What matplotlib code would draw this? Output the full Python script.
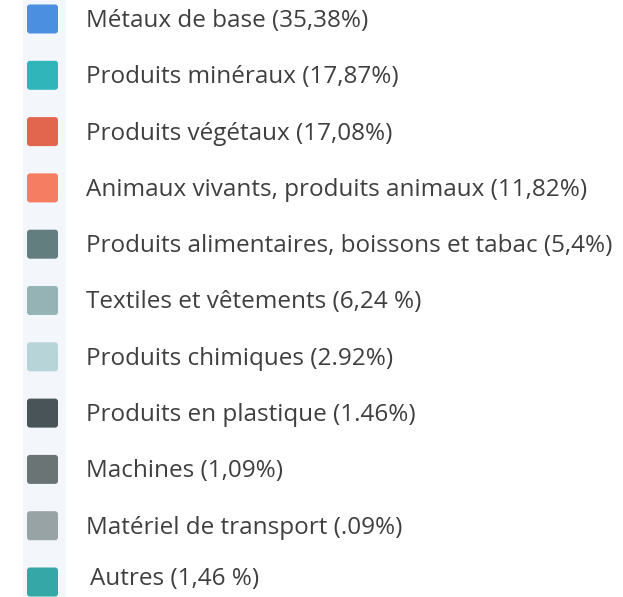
import matplotlib.pyplot as plt
from matplotlib.patches import FancyBboxPatch, Rectangle

# legend entries (labels as written in the source)
labels = [
    'Métaux de base (35,38%)',
    'Produits minéraux (17,87%)',
    'Produits végétaux (17,08%)',
    'Animaux vivants, produits animaux (11,82%)',
    'Produits alimentaires, boissons et tabac (5,4%)',
    'Textiles et vêtements (6,24 %)',
    'Produits chimiques (2.92%)',
    'Produits en plastique (1.46%)',
    'Machines (1,09%)',
    'Matériel de transport (.09%)',
    'Autres (1,46 %)',
]
colors = ['#4a8fe0', '#30b6ba', '#e2664e', '#f47d62', '#627e7f', '#95b2b5',
          '#b7d4d9', '#485458', '#6a7475', '#98a3a5', '#35a7a7']

W, H = 623, 597
fig = plt.figure(figsize=(W / 100, H / 100), dpi=100)
ax = fig.add_axes([0, 0, 1, 1])
ax.set_xlim(0, W)
ax.set_ylim(H, 0)
ax.axis('off')

# faint strip behind the swatches
ax.add_patch(Rectangle((23, 0), 43, H, color='#f3f6fa', lw=0))

y0, step = 19, 56.3
for i, (lab, c) in enumerate(zip(labels, colors)):
    y = y0 + i * step
    ax.add_patch(FancyBboxPatch((27, y - 14.5), 31, 29,
                                boxstyle='round,pad=0,rounding_size=3',
                                fc=c, ec='none'))
    tx = 90 if lab.startswith('Autres') else 86
    dy = -3 if lab.startswith('Autres') else 2
    ax.text(tx, y + dy, lab, fontsize=17.5, family='Open Sans', color='#3f3f3f',
            va='center', ha='left')

fig.savefig('out.png', dpi=100)
